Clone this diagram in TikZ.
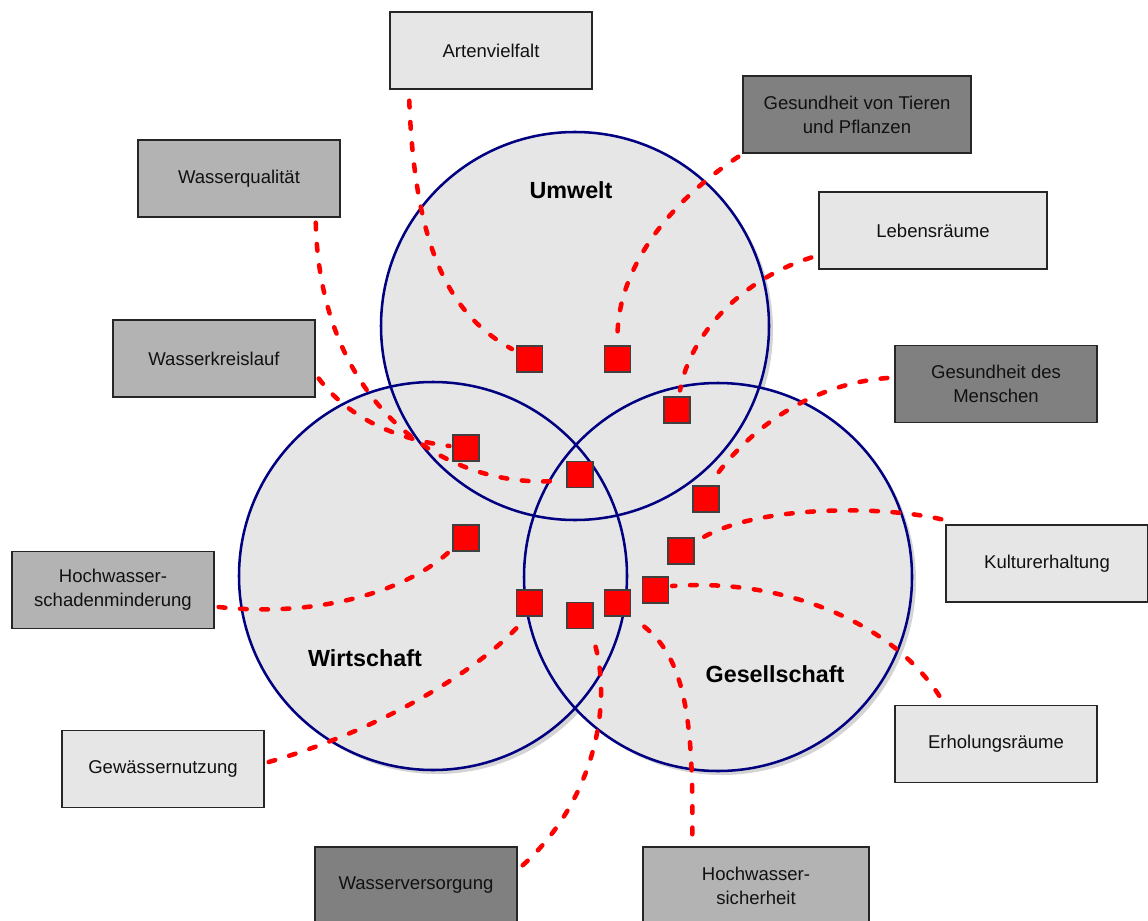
\documentclass[tikz,border=0pt]{standalone}
\usepackage{fontspec}
\setmainfont{Liberation Sans}
\usetikzlibrary{calc}
\definecolor{navyc}{HTML}{000080}
\definecolor{lightbox}{HTML}{E6E6E6}
\definecolor{midbox}{HTML}{B3B3B3}
\definecolor{darkbox}{HTML}{808080}
\definecolor{circfill}{HTML}{E6E6E6}
\definecolor{circshadow}{HTML}{D4D4D4}
\definecolor{txt}{HTML}{111111}
\begin{document}
\begin{tikzpicture}[x=0.75pt,y=-0.75pt,
  box/.style={draw=black!85, line width=1.1pt, minimum width=151.5pt, minimum height=57.75pt,
    align=center, text=txt, font=\fontsize{13.9}{18}\selectfont, inner sep=2pt},
  wide/.style={minimum width=171pt},
  lt/.style={fill=lightbox}, md/.style={fill=midbox}, dk/.style={fill=darkbox},
  sq/.style={draw=black!75, line width=0.9pt, fill=red, minimum size=19.5pt, inner sep=0pt},
  conn/.style={draw=red, line width=3.4pt, line cap=round, dash pattern=on 5pt off 11pt},
  title/.style={font=\fontsize{17.5}{21}\selectfont\bfseries, text=black}]
\useasboundingbox (0,0) rectangle (1148,920);

% circles
\coordinate (cu) at (575,326);
\coordinate (cw) at (433,576);
\coordinate (cg) at (718,577);
\foreach \c in {cu,cw,cg} \fill[circshadow] ($(\c)+(4,4)$) circle[radius=194];
\foreach \c in {cu,cw,cg} \fill[circfill] (\c) circle[radius=194];
\foreach \c in {cu,cw,cg} \draw[navyc, line width=1.9pt] (\c) circle[radius=194];

% titles
\node[title] (tu) at (571,190) {Umwelt};
\node[title] (tw) at (365,658) {Wirtschaft};
\node[title] (tg) at (775,674) {Gesellschaft};

% boxes
\node[box,lt] (art) at (491,50.5) {Artenvielfalt};
\node[box,dk,wide] (tiere) at (857,114.5) {Gesundheit von Tieren\\und Pflanzen};
\node[box,md] (wq) at (239,178.5) {Wasserqualität};
\node[box,lt,wide] (leb) at (933,230.5) {Lebensräume};
\node[box,md] (wk) at (214,358.5) {Wasserkreislauf};
\node[box,dk] (gm) at (996,384) {Gesundheit des\\Menschen};
\node[box,lt] (kul) at (1047,563.5) {Kulturerhaltung};
\node[box,md] (hws) at (113,590) {Hochwasser-\\schadenminderung};
\node[box,lt] (erh) at (996,744) {Erholungsräume};
\node[box,lt] (gew) at (163,769) {Gewässernutzung};
\node[box,dk] (wv) at (416,885.5) {Wasserversorgung};
\node[box,md,minimum width=169.5pt] (hs) at (756,885.5) {Hochwasser-\\sicherheit};

% squares
\node[sq] (s1) at (529.5,359) {};
\node[sq] (s2) at (617.5,359) {};
\node[sq] (s3) at (677,410) {};
\node[sq] (s4) at (466,448) {};
\node[sq] (s5) at (580,474.5) {};
\node[sq] (s6) at (466,538) {};
\node[sq] (s7) at (706,499) {};
\node[sq] (s8) at (681,551) {};
\node[sq] (s9) at (655.5,590) {};
\node[sq] (s10) at (529.5,603) {};
\node[sq] (s11) at (580,615.5) {};
\node[sq] (s12) at (617.5,603) {};

% connectors
\draw[conn] ($(art.south west)+(20,11)$) .. controls (415,250) and (450,315) .. ($(s1.west)+(-4,-10)$);
\draw[conn] ($(tiere.south west)+(-4,3)$) .. controls (655,212) and (617,280) .. ($(s2.north)+(0,-8)$);
\draw[conn] ($(wq.south east)+(-25,5)$) .. controls (320,400) and (440,492) .. ($(s5.west)+(-3,6)$);
\draw[conn] ($(wk.east)+(3,20)$) .. controls (350,420) and (400,440) .. ($(s4.west)+(-3,-2)$);
\draw[conn] ($(leb.west)+(-7,27)$) .. controls (740,280) and (690,335) .. ($(s3.north)+(3,-6)$);
\draw[conn] ($(gm.west)+(-7,-6)$) .. controls (800,385) and (740,440) .. ($(s7.north)+(6,-4)$);
\draw[conn] ($(kul.north west)+(-4,-5)$) .. controls (880,505) and (750,505) .. ($(s8.north east)+(2,4)$);
\draw[conn] ($(erh.north west)+(45,-9)$) .. controls (890,620) and (780,578) .. ($(s9.east)+(3,-4)$);
\draw[conn] ($(hws.east)+(4,17)$) .. controls (320,618) and (410,590) .. ($(s6.south west)+(-1,-2)$);
\draw[conn] ($(gew.east)+(4,-7)$) .. controls (380,730) and (480,670) .. ($(s10.south)+(-8,6)$);
\draw[conn] ($(wv.north east)+(5,19)$) .. controls (595,800) and (615,700) .. ($(s11.south)+(12,6)$);
\draw[conn] ($(hs.north west)+(50,-12)$) .. controls (694,700) and (680,650) .. ($(s12.south east)+(5,4)$);
\end{tikzpicture}
\end{document}
